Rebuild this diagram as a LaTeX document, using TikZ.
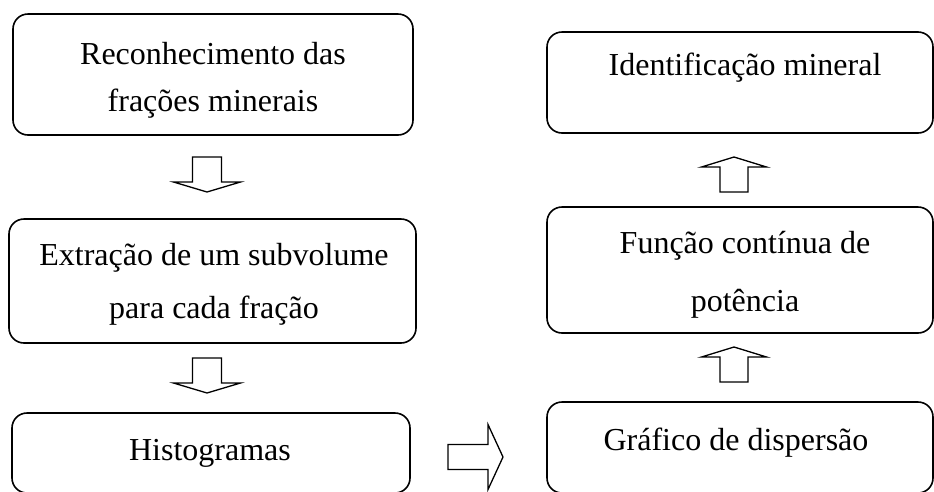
\documentclass[tikz,border=0pt]{standalone}
\usepackage{fontspec}
\setmainfont{Liberation Serif}
\begin{document}
\begin{tikzpicture}[x=1pt,y=-1pt,
  box/.style={draw, line width=1.6pt, rounded corners=15pt, inner sep=0pt},
  txt/.style={anchor=base, inner sep=0pt, font=\fontsize{32}{38}\selectfont},
  barrow/.style={draw, line width=1.3pt, fill=white, line join=miter},
  downarr/.pic={\draw[barrow] (-14.5,0) -- (14.5,0) -- (14.5,25) -- (33.5,25) -- (0,35) -- (-33.5,25) -- (-14.5,25) -- cycle;},
  uparr/.pic={\draw[barrow] (-14,35) -- (14,35) -- (14,10) -- (32.5,10) -- (0,0) -- (-32.5,10) -- (-14,10) -- cycle;},
  rightarr/.pic={\draw[barrow] (0,-12.5) -- (40,-12.5) -- (40,-32.5) -- (55,0) -- (40,32.5) -- (40,12.5) -- (0,12.5) -- cycle;}
]
\useasboundingbox (0,0) rectangle (934,491);
\clip (0,0) rectangle (934,491);
% left column
\node[box, minimum width=400pt, minimum height=121pt] (b1) at (213,74.5) {};
\node[txt] (t1a) at (213,64) {Reconhecimento das};
\node[txt] (t1b) at (213,111) {frações minerais};
\node[box, minimum width=407pt, minimum height=124pt] (b2) at (212.5,281) {};
\node[txt] (t2a) at (214,265) {Extração de um subvolume};
\node[txt] (t2b) at (214,318) {para cada fração};
\node[box, minimum width=398pt, minimum height=80pt] (b3) at (211,453) {};
\node[txt] (t3) at (210,460) {Histogramas};
% right column
\node[box, minimum width=386pt, minimum height=101pt] (r1) at (740,82.5) {};
\node[txt] (s1) at (745,75) {Identificação mineral};
\node[box, minimum width=386pt, minimum height=126pt] (r2) at (740,270) {};
\node[txt] (s2a) at (745,253) {Função contínua de};
\node[txt] (s2b) at (745,311) {potência};
\node[box, minimum width=386pt, minimum height=91pt] (r3) at (740,447.5) {};
\node[txt] (s3) at (736,450) {Gráfico de dispersão};
% block arrows
\pic at (207,157) {downarr};
\pic at (207,358) {downarr};
\pic at (734,157) {uparr};
\pic at (734,347) {uparr};
\pic at (448,457) {rightarr};
\end{tikzpicture}
\end{document}
